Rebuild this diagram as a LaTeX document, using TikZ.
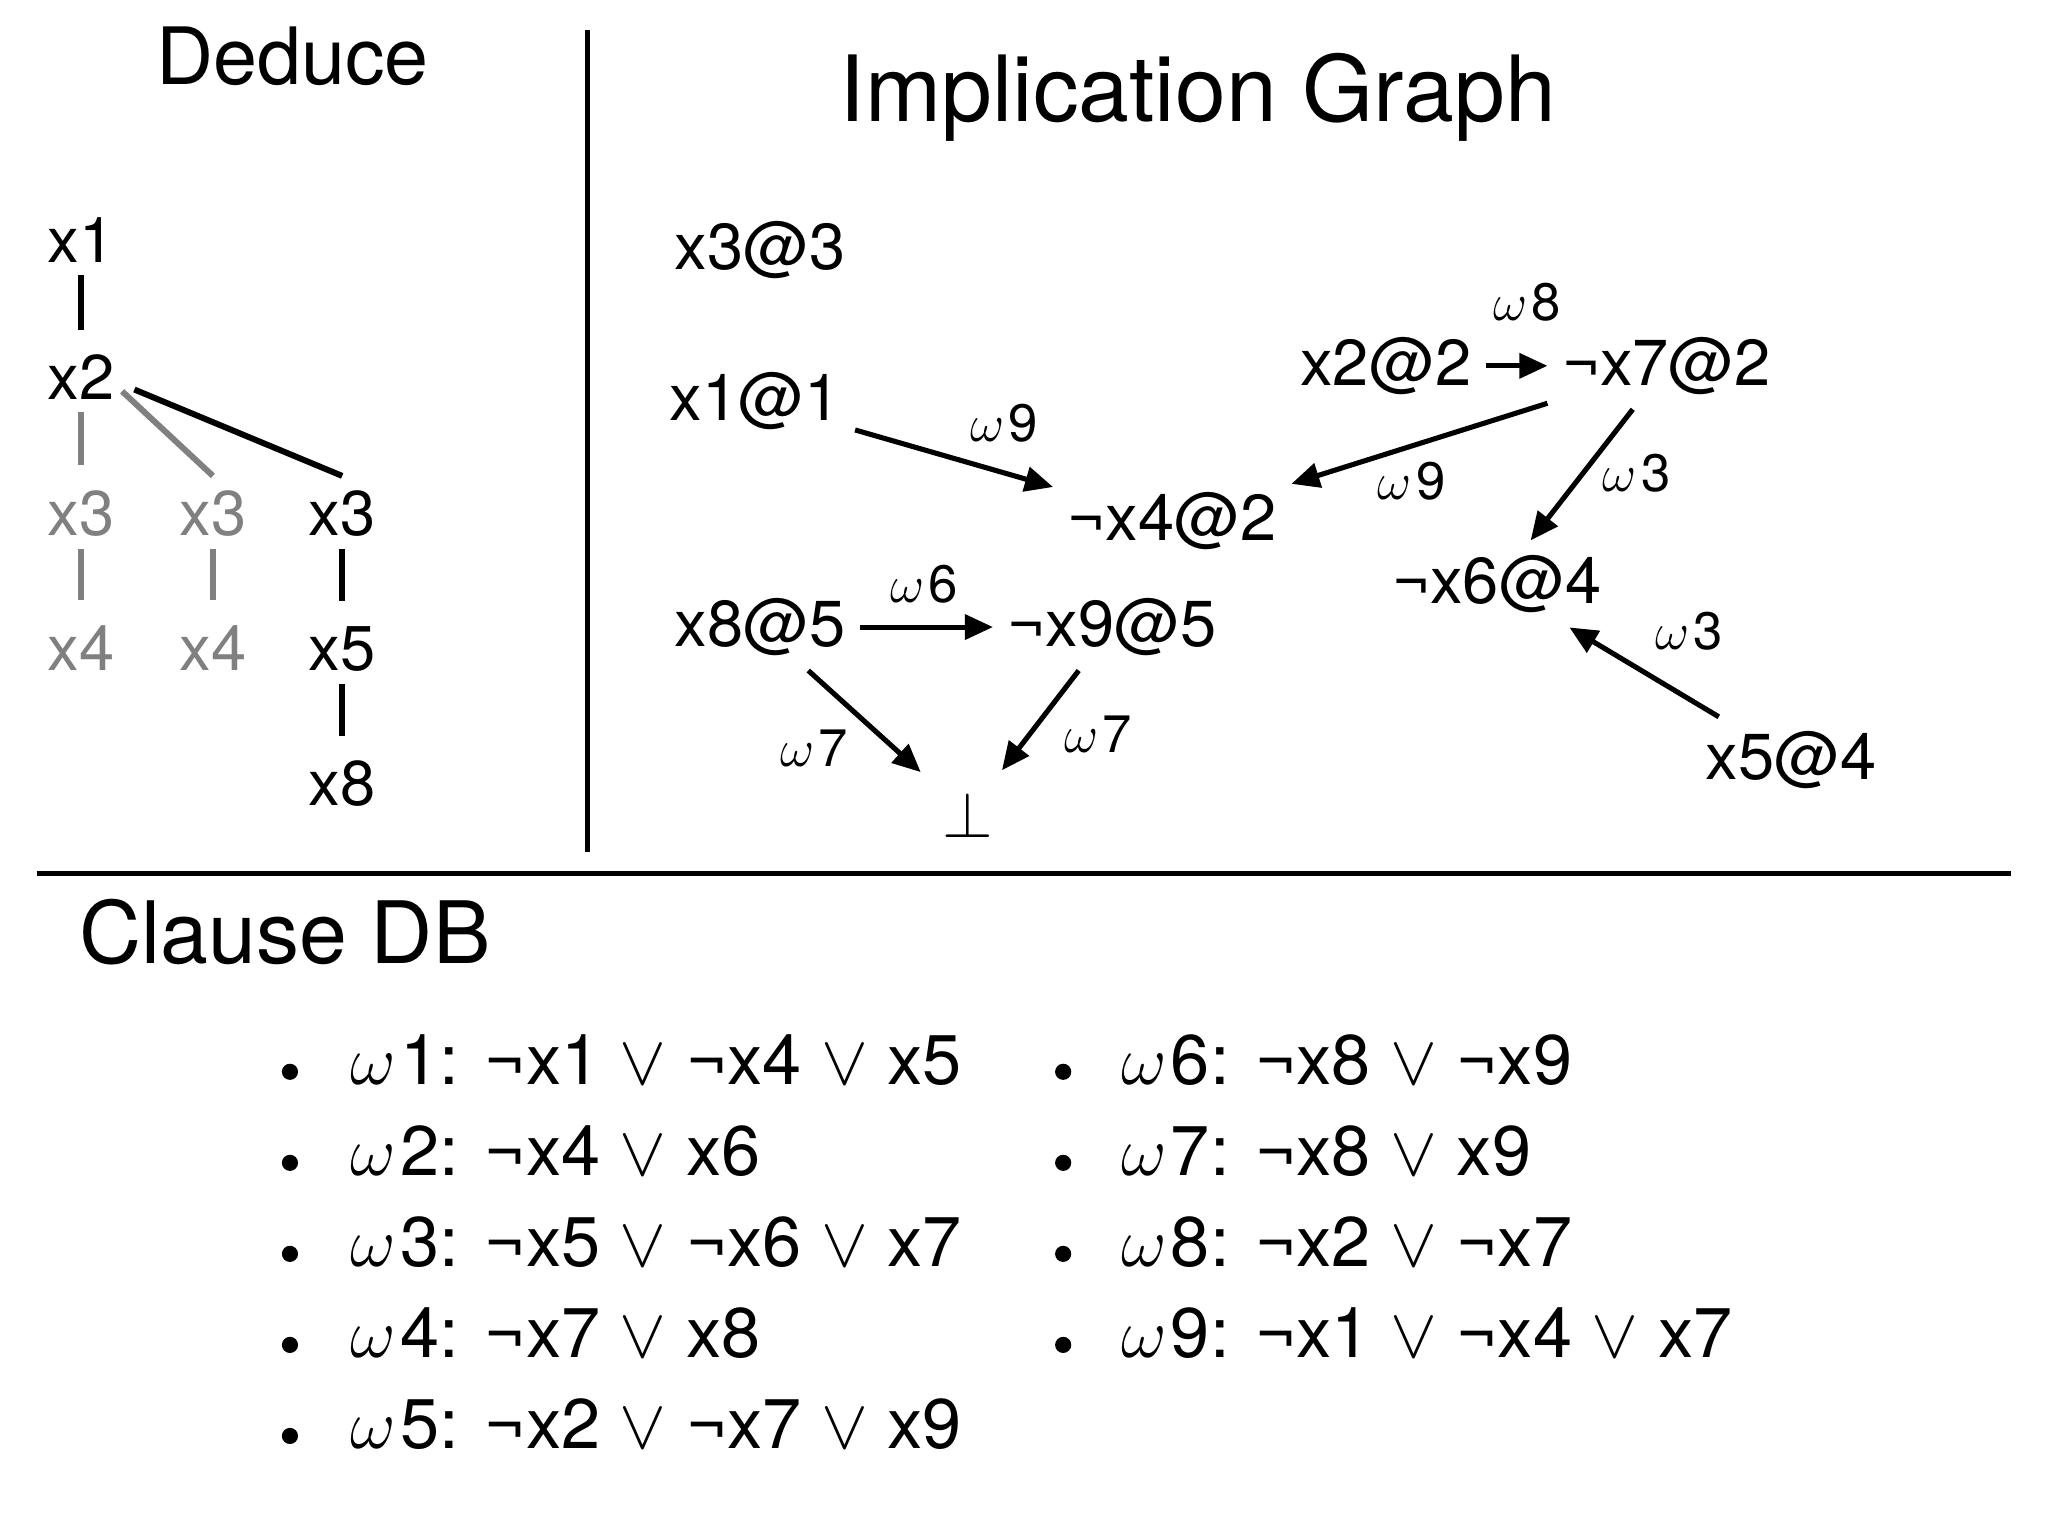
\documentclass[tikz,border=0pt]{standalone}
\usepackage{fix-cm}
\usepackage{fontspec}
\setmainfont{TeX Gyre Heros}
\usetikzlibrary{arrows.meta}
\newcommand\orsym{$\vee$}
\newcommand\om{$\omega$\kern1.2pt}

\begin{document}
\begin{tikzpicture}[x=0.01306cm,y=-0.01306cm,>={Triangle[length=8pt,width=7pt]},line join=round,
	lit/.style={anchor=base,inner sep=4pt,font=\fontsize{18.5}{22}\selectfont},
	var/.style={anchor=base,inner sep=0pt,font=\fontsize{18}{22}\selectfont},
	lbl/.style={inner sep=0pt,font=\fontsize{15}{18}\selectfont},
	clause/.style={anchor=base west,inner sep=0pt,font=\fontsize{20}{24}\selectfont},
	dot/.style={circle,fill,inner sep=0pt,minimum size=4.6pt},
	imp/.style={->,line width=1.45pt},
	bar/.style={line width=1.85pt,shorten <=3.4pt,shorten >=7pt},
	old/.style={gray}]
	\useasboundingbox (0,0) rectangle (1568,1176);
	% panels
	\draw[line width=1.4pt] (450,23) -- (450,652);
	\draw[line width=1.5pt] (28,669) -- (1540,669);
	\node[anchor=base,font=\fontsize{22.5}{26}\selectfont] (ded) at (224,65) {Deduce};
	\node[anchor=base,font=\fontsize{26}{30}\selectfont] (ig) at (917,93) {Implication Graph};
	\node[anchor=base west,inner sep=0pt,font=\fontsize{24.5}{28}\selectfont] (cdb) at (60,738) {Clause DB};
	% deduce tree
	\node[var] (d1) at (62,201) {x1};
	\node[var] (d2) at (62,306) {x2};
	\node[var,old] (d3a) at (62,410) {x3};
	\node[var,old] (d4a) at (62,513) {x4};
	\node[var,old] (d3b) at (163,410) {x3};
	\node[var,old] (d4b) at (163,513) {x4};
	\node[var] (d3c) at (262,410) {x3};
	\node[var] (d5) at (262,513) {x5};
	\node[var] (d8) at (262,617) {x8};
	\draw[bar] (d1) -- (d2);
	\draw[bar,old] (d2) -- (d3a);
	\draw[bar,old] (d3a) -- (d4a);
	\draw[bar,old] (d3b) -- (d4b);
	\draw[bar] (d3c) -- (d5);
	\draw[bar] (d5) -- (d8);
	\draw[line width=1.7pt,old] ([shift={(2pt,-4pt)}]d2.east) -- ([yshift=4pt]d3b.north);
	\draw[line width=1.7pt] ([shift={(5.5pt,-3.5pt)}]d2.east) -- ([yshift=4pt]d3c.north);
	% implication graph
	\node[lit] (g33) at (582,206) {x3@3};
	\node[lit] (g11) at (578,322) {x1@1};
	\node[lit] (g42) at (897.5,414) {¬x4@2};
	\node[lit] (g85) at (582,495) {x8@5};
	\node[lit] (g95) at (851.5,495) {¬x9@5};
	\node[lit,inner sep=6pt] (bot) at (741,641) {$\bot$};
	\node[lit] (g22) at (1061,295) {x2@2};
	\node[lit] (g72) at (1276,295) {¬x7@2};
	\node[lit] (g64) at (1146,462) {¬x6@4};
	\node[lit] (g54) at (1371.5,597) {x5@4};
	\draw[imp] (g11) -- node[lbl,pos=.57,anchor=south west,yshift=5pt] {\om9} (g42);
	\draw[imp] (g72) -- node[lbl,pos=.53,anchor=north,yshift=-4pt] {\om9} (g42);
	\draw[imp] (g22) -- node[lbl,pos=.67,anchor=south,yshift=12pt] {\om8} (g72);
	\draw[imp] (g72) -- node[lbl,pos=.49,anchor=west,xshift=5pt] {\om3} (g64);
	\draw[imp] (g54) -- node[lbl,pos=.44,anchor=south west,yshift=7pt] {\om3} (g64);
	\draw[imp] (g85) -- node[lbl,pos=.48,anchor=south,yshift=6pt] {\om6} (g95);
	\draw[imp] (g85) -- node[lbl,pos=.56,anchor=north east,xshift=-6pt] {\om7} (bot);
	\draw[imp] (g95) -- node[lbl,pos=.43,anchor=north west,xshift=4.5pt] {\om7} (bot);
	% clause db
	\foreach \cl [count=\i] in {{\om1: ¬x1 \orsym\ ¬x4 \orsym\ x5},{\om2: ¬x4 \orsym\ x6},
		{\om3: ¬x5 \orsym\ ¬x6 \orsym\ x7},{\om4: ¬x7 \orsym\ x8},{\om5: ¬x2 \orsym\ ¬x7 \orsym\ x9}}{
		\node[dot] (bl\i) at (222,{820.6+69.7*(\i-1)}) {};
		\node[clause] (cl\i) at (268,{830+69.7*(\i-1)}) {\cl};
	}
	\foreach \cl [count=\i from 6] in {{\om6: ¬x8 \orsym\ ¬x9},{\om7: ¬x8 \orsym\ x9},
		{\om8: ¬x2 \orsym\ ¬x7},{\om9: ¬x1 \orsym\ ¬x4 \orsym\ x7}}{
		\node[dot] (bl\i) at (814,{820.6+69.7*(\i-6)}) {};
		\node[clause] (cl\i) at (858,{830+69.7*(\i-6)}) {\cl};
	}
\end{tikzpicture}
\end{document}
